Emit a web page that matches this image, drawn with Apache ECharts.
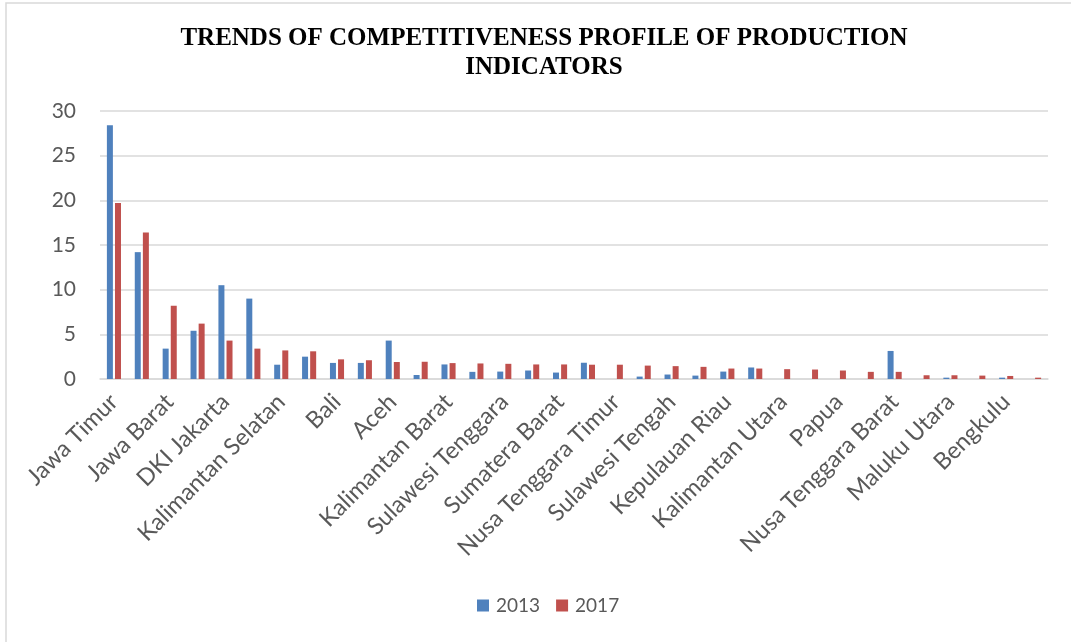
<!DOCTYPE html>
<html>
<head>
<meta charset="utf-8">
<script src="https://cdn.jsdelivr.net/npm/echarts@6/dist/echarts.min.js"></script>
<style>
html,body{margin:0;padding:0;background:#fff;}
#chart{width:1071px;height:642px;}
</style>
</head>
<body>
<div id="chart"></div>
<script>
const categories = [
  "Jawa Timur","Jawa Tengah","Jawa Barat","Banten","DKI Jakarta","Sumatera Utara",
  "Kalimantan Selatan","Kalimantan Timur","Bali","Sulawesi Selatan","Aceh","Riau",
  "Kalimantan Barat","Sumatera Selatan","Sulawesi Tenggara","Lampung","Sumatera Barat",
  "DI Yogyakarta","Nusa Tenggara Timur","Jambi","Sulawesi Tengah","Sulawesi Utara",
  "Kepulauan Riau","Kalimantan Tengah","Kalimantan Utara","Gorontalo","Papua",
  "Bangka Belitung","Nusa Tenggara Barat","Papua Barat","Maluku Utara","Sulawesi Barat",
  "Bengkulu","Maluku"
];
const values2013 = [
  28.4, 14.2, 3.4, 5.4, 10.5, 9.0, 1.6, 2.5, 1.8, 1.8, 4.3, 0.45,
  1.63, 0.8, 0.83, 0.95, 0.72, 1.82, 0, 0.27, 0.5, 0.38, 0.83, 1.29,
  0, 0, 0, 0, 3.14, 0, 0.15, 0, 0.15, 0
];
const values2017 = [
  19.7, 16.4, 8.2, 6.2, 4.3, 3.4, 3.2, 3.1, 2.2, 2.1, 1.9, 1.93,
  1.78, 1.74, 1.7, 1.63, 1.63, 1.6, 1.6, 1.5, 1.44, 1.36, 1.17, 1.17,
  1.1, 1.06, 0.95, 0.8, 0.8, 0.42, 0.42, 0.38, 0.34, 0.15
];
const seriesNames = ["2013", "2017"];
const yTicks = [0, 5, 10, 15, 20, 25, 30];

const chart = echarts.init(document.getElementById('chart'), null, {renderer: 'canvas'});
const labelFont = 'Lato, "Open Sans", sans-serif';
chart.setOption({
  animation: false,
  backgroundColor: '#ffffff',
  title: {
    text: 'TRENDS OF COMPETITIVENESS PROFILE OF PRODUCTION\nINDICATORS',
    left: 539,
    top: 19,
    textAlign: 'center',
    textStyle: {
      fontFamily: '"Liberation Serif", "Times New Roman", serif',
      fontWeight: 'bold',
      fontSize: 25,
      lineHeight: 29,
      color: '#000000'
    }
  },
  graphic: [{
    type: 'rect',
    shape: {x: 6, y: 3, width: 1200, height: 800},
    style: {fill: 'none', stroke: '#d9d9d9', lineWidth: 1.5},
    silent: true
  }],
  legend: {
    data: seriesNames,
    bottom: 22,
    left: 472,
    itemWidth: 12,
    itemHeight: 12,
    itemGap: 16,
    icon: 'rect',
    textStyle: {fontFamily: labelFont, fontSize: 19, color: '#595959', padding: [0, 0, 0, 2]}
  },
  grid: {left: 100, right: 23, top: 111, bottom: 263, containLabel: false},
  xAxis: {
    type: 'category',
    data: categories,
    axisTick: {show: false},
    axisLine: {lineStyle: {color: '#d9d9d9', width: 1.5}},
    axisLabel: {
      interval: 1,
      rotate: 45,
      margin: 19,
      fontFamily: labelFont,
      fontSize: 23.5,
      color: '#595959'
    }
  },
  yAxis: {
    type: 'value',
    min: yTicks[0],
    max: yTicks[yTicks.length - 1],
    interval: 5,
    axisLine: {show: false},
    axisTick: {show: false},
    splitLine: {lineStyle: {color: '#d9d9d9', width: 1.5}},
    axisLabel: {
      margin: 24,
      fontFamily: labelFont,
      fontSize: 21,
      color: '#595959'
    }
  },
  series: [
    {
      name: seriesNames[0],
      type: 'bar',
      data: values2013,
      barWidth: 6,
      barGap: '35%',
      itemStyle: {color: '#4F81BD'}
    },
    {
      name: seriesNames[1],
      type: 'bar',
      data: values2017,
      barWidth: 6,
      barGap: '35%',
      itemStyle: {color: '#C0504D'}
    }
  ]
});
</script>
</body>
</html>
